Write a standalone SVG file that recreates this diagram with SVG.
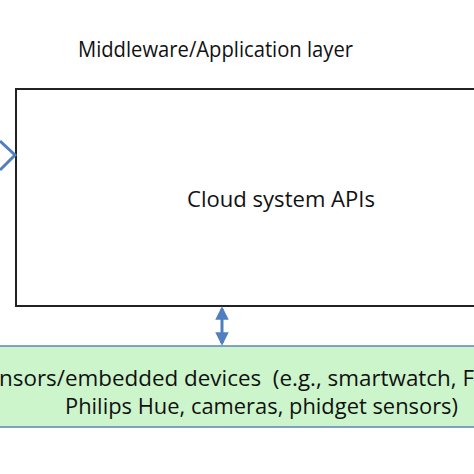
<svg xmlns="http://www.w3.org/2000/svg" width="474" height="474" viewBox="0 0 474 474">
<style>
.t{font-family:"Open Sans","Liberation Sans",sans-serif;fill:#111;font-size:21px;white-space:pre}
.conn{stroke:#4f7fbf;stroke-width:3;fill:none}
</style>
<defs>
<marker id="ah" viewBox="0 0 10 10" refX="8" refY="5" markerWidth="4.5" markerHeight="4.5" orient="auto-start-reverse">
<path d="M0,0 L10,5 L0,10 z" fill="#4f7fbf"/>
</marker>
</defs>
<rect width="474" height="474" fill="#fff"/>
<g id="title">
<text class="t" x="78" y="57" textLength="275" lengthAdjust="spacingAndGlyphs">Middleware/Application layer</text>
</g>
<g id="cloud">
<rect x="16" y="89" width="470" height="217" fill="#fff" stroke="#222" stroke-width="2"/>
<text class="t" x="187" y="207" textLength="188" lengthAdjust="spacingAndGlyphs">Cloud system APIs</text>
</g>
<g id="devices">
<rect x="-10" y="346" width="500" height="81" fill="#ccf5cc" stroke="#5a85bd" stroke-width="1.5"/>
<text class="t" x="-1" y="386" textLength="475" lengthAdjust="spacingAndGlyphs" xml:space="preserve">nsors/embedded devices  (e.g., smartwatch, F</text>
<text class="t" x="65" y="414" textLength="393" lengthAdjust="spacingAndGlyphs">Philips Hue, cameras, phidget sensors)</text>
</g>
<g id="connectors">
<line class="conn" x1="222" y1="309" x2="222" y2="343" marker-start="url(#ah)" marker-end="url(#ah)"/>
<polyline class="conn" points="0,141 15,155 0,170"/>
</g>
</svg>
